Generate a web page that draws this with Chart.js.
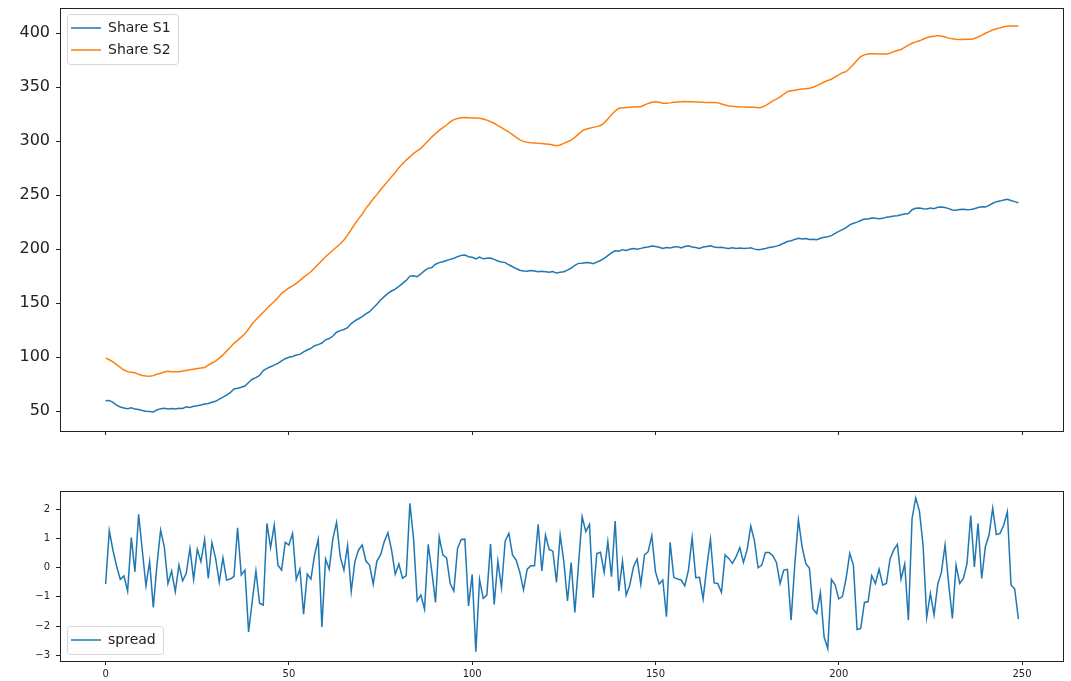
<!DOCTYPE html>
<html>
<head>
<meta charset="utf-8">
<script src="https://cdn.jsdelivr.net/npm/chart.js@4/dist/chart.umd.min.js"></script>
<style>
  html, body { margin: 0; padding: 0; background: #fff; }
  body { width: 1071px; height: 681px; position: relative; overflow: hidden; }
  .panel { position: absolute; left: 0; width: 1071px; }
  #topPanel { top: 0; height: 460px; }
  #bottomPanel { top: 470px; height: 211px; }
</style>
</head>
<body>
<div class="panel" id="topPanel"><canvas id="chartShares"></canvas></div>
<div class="panel" id="bottomPanel"><canvas id="chartSpread"></canvas></div>
<script>
const shareS1 = [
  59.5, 59.8, 58.0, 55.5, 53.8, 52.8, 52.2, 53.0, 51.8, 51.5,
  50.5, 49.8, 49.5, 49.2, 51.0, 52.2, 52.6, 51.8, 52.4, 51.9,
  52.6, 52.3, 53.9, 53.2, 54.5, 55.0, 55.6, 56.5, 57.0, 58.2,
  59.0, 61.0, 62.8, 64.8, 67.0, 70.5, 71.2, 72.0, 73.2, 76.5,
  79.5, 81.0, 83.0, 87.5, 89.5, 91.0, 92.5, 94.2, 96.5, 98.5,
  99.8, 100.5, 101.9, 102.5, 104.8, 106.5, 108.0, 110.5, 111.5, 113.0,
  116.0, 117.2, 119.5, 123.0, 124.5, 125.5, 127.2, 131.0, 133.5, 135.5,
  137.5, 140.0, 142.0, 145.5, 149.0, 152.8, 156.0, 159.0, 161.2, 163.0,
  165.5, 168.3, 171.0, 175.0, 175.3, 174.5, 177.0, 180.0, 182.2, 183.0,
  186.0, 187.5, 188.3, 189.5, 190.5, 191.5, 193.0, 194.2, 194.5, 193.0,
  192.4, 191.0, 192.6, 191.0, 191.5, 191.8, 190.5, 189.0, 188.0, 187.5,
  185.5, 183.7, 182.0, 180.5, 179.7, 179.5, 180.2, 179.8, 179.0, 179.5,
  179.0, 178.5, 179.2, 177.8, 178.5, 179.0, 180.6, 182.5, 185.0, 186.8,
  187.0, 187.6, 187.4, 186.5, 188.0, 189.5, 191.5, 194.0, 196.5, 198.5,
  198.0, 199.5, 198.8, 199.8, 200.5, 200.0, 200.7, 201.5, 202.0, 202.9,
  202.5, 201.8, 200.7, 201.5, 201.0, 202.0, 202.3, 201.2, 202.5, 203.0,
  202.0, 201.5, 200.7, 202.0, 202.5, 203.0, 202.0, 201.5, 201.7, 201.0,
  200.7, 201.2, 200.5, 201.0, 200.5, 200.7, 201.2, 200.0, 199.5, 199.8,
  200.5, 201.5, 202.0, 202.8, 203.8, 205.5, 207.0, 207.8, 209.0, 210.0,
  209.5, 209.8, 209.0, 209.1, 208.8, 210.0, 211.0, 211.5, 212.5, 214.5,
  216.5, 218.0, 220.0, 222.5, 224.0, 225.0, 226.5, 227.9, 228.0, 228.8,
  228.5, 228.2, 228.5, 229.5, 230.0, 230.7, 231.0, 231.8, 232.5, 233.0,
  236.5, 237.8, 238.0, 237.5, 237.2, 238.0, 237.5, 238.7, 239.0, 238.5,
  237.5, 236.2, 236.0, 236.8, 237.0, 236.5, 236.8, 237.5, 238.5, 239.3,
  239.0, 240.5, 242.5, 244.0, 244.5, 245.5, 246.2, 245.0, 244.0, 243.0
];

const shareS2 = [
  99.0, 97.5, 95.5, 93.0, 90.5, 88.0, 86.5, 86.0, 85.5, 84.0,
  83.0, 82.5, 82.3, 82.8, 84.0, 85.0, 86.2, 86.8, 86.5, 86.3,
  86.5, 87.0, 87.6, 88.2, 88.8, 89.4, 89.8, 90.4, 92.5, 94.5,
  96.3, 99.0, 102.0, 105.5, 109.0, 112.7, 115.5, 118.5, 121.5, 126.0,
  131.0, 134.5, 138.0, 141.5, 145.0, 148.5, 151.5, 155.0, 159.0, 161.5,
  164.0, 166.0, 168.3, 171.0, 173.8, 176.5, 179.0, 182.5, 186.0, 189.5,
  193.0, 196.0, 199.0, 202.0, 205.0, 208.4, 213.0, 218.0, 223.5, 228.0,
  232.5, 237.8, 242.0, 246.5, 250.5, 255.0, 259.0, 263.0, 267.0, 271.0,
  275.5, 279.0, 282.5, 285.5, 288.8, 291.0, 293.4, 297.0, 300.5, 304.0,
  307.0, 310.0, 312.5, 315.0, 317.8, 320.0, 321.0, 321.8, 322.0, 321.8,
  321.5, 321.5, 321.3, 320.5, 319.5, 318.0, 316.6, 314.5, 312.5, 310.5,
  308.5, 306.0, 303.5, 301.2, 299.8, 299.0, 298.6, 298.3, 298.0, 297.8,
  297.5, 297.2, 296.5, 295.8, 296.5, 298.0, 299.5, 301.0, 303.5, 306.5,
  309.5, 311.0, 312.0, 312.8, 313.5, 314.5, 317.0, 320.5, 324.5, 328.0,
  330.5, 331.0, 331.2, 331.4, 331.6, 331.8, 332.0, 333.5, 335.0, 336.0,
  336.6, 336.0, 335.2, 335.1, 335.5, 336.0, 336.3, 336.6, 336.7, 336.6,
  336.5, 336.4, 336.3, 336.0, 335.9, 335.8, 335.8, 335.5, 334.5, 333.5,
  332.6, 332.3, 332.0, 331.8, 331.7, 331.6, 331.5, 331.4, 331.0, 331.5,
  333.0, 335.0, 337.3, 339.0, 341.0, 343.5, 346.0, 346.8, 347.3, 347.8,
  348.3, 348.7, 349.0, 350.0, 351.5, 353.0, 354.8, 356.2, 357.4, 359.5,
  361.5, 363.5, 364.4, 367.5, 371.0, 375.0, 378.3, 380.0, 380.8, 381.0,
  381.0, 380.8, 380.8, 380.8, 381.5, 383.0, 384.0, 385.0, 387.0, 389.0,
  390.7, 392.0, 393.0, 394.5, 395.9, 396.8, 397.3, 397.8, 397.5, 396.5,
  395.5, 394.8, 394.4, 394.3, 394.2, 394.4, 394.4, 395.2, 396.5, 398.0,
  400.0, 401.5, 403.0, 404.2, 405.0, 406.1, 406.6, 406.8, 406.8, 406.8
];

const spread = [
  -0.56, 1.27, 0.6, 0.05, -0.4, -0.28, -0.8, 1.04, -0.14, 1.83,
  0.6, -0.62, 0.21, -1.36, 0.1, 1.29, 0.72, -0.54, -0.11, -0.82,
  0.09, -0.45, -0.19, 0.66, -0.4, 0.63, 0.21, 0.97, -0.37, 0.86,
  0.32, -0.5, 0.34, -0.42, -0.39, -0.3, 1.37, -0.25, -0.08, -2.2,
  -1.15, -0.11, -1.22, -1.28, 1.52, 0.69, 1.47, 0.09, -0.08, 0.87,
  0.78, 1.18, -0.4, -0.05, -1.59, -0.22, -0.39, 0.44, 0.97, -2.03,
  0.3, -0.05, 1.0, 1.56, 0.38, -0.08, 0.76, -0.82, 0.21, 0.61,
  0.78, 0.23, 0.09, -0.56, 0.23, 0.44, 0.89, 1.2, 0.61, -0.22,
  0.13, -0.36, -0.27, 2.21, 1.0, -1.13, -0.94, -1.42, 0.8, -0.14,
  -1.19, 1.06, 0.44, 0.34, -0.54, -0.8, 0.66, 0.97, 0.98, -1.31,
  -0.23, -2.88, -0.4, -1.05, -0.94, 0.81, -1.26, 0.23, -0.69, 0.92,
  1.18, 0.44, 0.26, -0.16, -0.76, -0.05, 0.07, 0.07, 1.49, -0.11,
  1.12, 0.63, 0.57, -0.5, 1.12, 0.21, -1.14, 0.18, -1.53, 0.1,
  1.75, 1.24, 1.49, -1.03, 0.49, 0.53, -0.16, 0.89, -0.31, 1.6,
  -0.8, 0.23, -0.94, -0.59, 0.03, 0.3, -0.57, 0.44, 0.55, 1.1,
  -0.14, -0.56, -0.42, -1.68, 0.87, -0.33, -0.39, -0.42, -0.62, -0.08,
  1.03, -0.34, -0.33, -1.07, 0.03, 0.98, -0.52, -0.54, -0.85, 0.44,
  0.32, 0.15, 0.38, 0.69, 0.18, 0.61, 1.43, 0.92, 0.0, 0.09,
  0.52, 0.52, 0.41, 0.18, -0.54, -0.08, -0.06, -1.8, 0.1, 1.64,
  0.72, 0.15, -0.02, -1.42, -1.57, -0.85, -2.37, -2.77, -0.4, -0.59,
  -1.07, -0.99, -0.37, 0.49, 0.09, -2.12, -2.08, -1.19, -1.17, -0.27,
  -0.54, -0.05, -0.59, -0.54, 0.3, 0.61, 0.8, -0.39, 0.13, -1.8,
  1.69, 2.4, 1.95, 0.78, -1.7, -0.88, -1.62, -0.57, -0.16, 0.78,
  -0.57, -1.74, 0.09, -0.54, -0.37, 0.15, 1.79, 0.03, 1.52, -0.37,
  0.72, 1.12, 2.04, 1.14, 1.18, 1.46, 1.92, -0.59, -0.73, -1.76
];

const xTicks = [0, 50, 100, 150, 200, 250]
const shareTicks = [50, 100, 150, 200, 250, 300, 350, 400]
const spreadTicks = [-3, -2, -1, 0, 1, 2]

const BLUE = '#1f77b4'
const ORANGE = '#ff7f0e'
const FONT = "'DejaVu Sans', sans-serif"

function toPoints(arr) {
  return arr.map((v, i) => ({x: i, y: v}))
}

function fmt(v) {
  return v < 0 ? '\u2212' + Math.abs(v) : String(v)
}

// matplotlib style box around the axes, legend kept inside the axes
const framePlugin = {
  id: 'frame',
  beforeDraw(chart) {
    const lg = chart.legend
    const a = chart.chartArea
    if (!lg || !lg.legendHitBoxes || !lg.legendHitBoxes.length) return
    // vertical legends get top/bottom reset to canvas space, put them back in the axes
    lg.left = a.left + 3
    lg.top = a.top + 5
    lg.bottom = a.bottom - 6
    lg.fit()
    lg.adjustHitBoxes()

    const boxes = lg.legendHitBoxes
    let l = Infinity, t = Infinity, r = -Infinity, b = -Infinity
    boxes.forEach(h => {
      l = Math.min(l, h.left); t = Math.min(t, h.top)
      r = Math.max(r, h.left + h.width); b = Math.max(b, h.top + h.height)
    })
    const ctx = chart.ctx
    ctx.save()
    ctx.beginPath()
    ctx.roundRect(Math.round(l - 4) + 0.5, Math.round(t - 7) + 0.5, Math.round(r - l + 11), Math.round(b - t + 14), 3)
    ctx.fillStyle = 'rgba(255,255,255,0.8)'
    ctx.fill()
    ctx.strokeStyle = '#d6d6d6'
    ctx.lineWidth = 1
    ctx.stroke()
    ctx.restore()
  },
  afterDatasetsDraw(chart) {
    const a = chart.chartArea
    const ctx = chart.ctx
    ctx.save()
    ctx.strokeStyle = '#222'
    ctx.lineWidth = 1
    ctx.strokeRect(Math.round(a.left) + 0.5, Math.round(a.top) + 0.5,
      Math.round(a.right - a.left) - 1, Math.round(a.bottom - a.top))
    ctx.restore()
  }
}

function xScale(showLabels, height) {
  return {
    type: 'linear',
    min: -12.45,
    max: 261.45,
    afterBuildTicks: (s) => { s.ticks = xTicks.map(v => ({value: v})) },
    afterFit: (s) => { s.height = height; s.paddingLeft = 0; s.paddingRight = 0 },
    border: {display: false},
    grid: {drawOnChartArea: false, drawTicks: true, tickLength: 4, color: '#222'},
    ticks: {
      display: true,
      padding: 3,
      color: '#222',
      font: {family: FONT, size: 10},
      callback: (v) => showLabels ? fmt(v) : ''
    }
  }
}

function yScale(min, max, tickVals, fontSize) {
  return {
    min: min,
    max: max,
    afterBuildTicks: (s) => { s.ticks = tickVals.map(v => ({value: v})) },
    afterFit: (s) => { s.width = 60; s.paddingTop = 0; s.paddingBottom = 0 },
    border: {display: false},
    grid: {drawOnChartArea: false, drawTicks: true, tickLength: 4, color: '#222'},
    ticks: {
      padding: 6,
      color: '#222',
      font: {family: FONT, size: fontSize},
      callback: (v) => fmt(v)
    }
  }
}

function legendOpts(align) {
  return {
    display: true,
    position: 'chartArea',
    align: align,
    labels: {
      usePointStyle: true,
      pointStyle: 'line',
      pointStyleWidth: 30,
      boxHeight: 14,
      padding: 8,
      color: '#222',
      font: {family: FONT, size: 14}
    }
  }
}

function lineSet(label, values, color) {
  return {
    label: label,
    data: toPoints(values),
    borderColor: color,
    backgroundColor: color,
    borderWidth: 1.5,
    pointRadius: 0,
    tension: 0,
    pointStyle: 'line'
  }
}

new Chart(document.getElementById('chartShares'), {
  type: 'line',
  data: {
    datasets: [
      lineSet('Share S1', shareS1, BLUE),
      lineSet('Share S2', shareS2, ORANGE)
    ]
  },
  options: {
    responsive: true,
    maintainAspectRatio: false,
    animation: false,
    layout: {padding: {top: 8, right: 7, left: 0, bottom: 0}},
    plugins: {legend: legendOpts('start'), tooltip: {enabled: false}},
    scales: {
      x: xScale(false, 29),
      y: yScale(31.5, 423.4, shareTicks, 16)
    }
  },
  plugins: [framePlugin]
});

new Chart(document.getElementById('chartSpread'), {
  type: 'line',
  data: {
    datasets: [lineSet('spread', spread, BLUE)]
  },
  options: {
    responsive: true,
    maintainAspectRatio: false,
    animation: false,
    layout: {padding: {top: 21, right: 7, left: 0, bottom: 0}},
    plugins: {legend: legendOpts('end'), tooltip: {enabled: false}},
    scales: {
      x: xScale(true, 20),
      y: yScale(-3.2, 2.633, spreadTicks, 10)
    }
  },
  plugins: [framePlugin]
});
</script>
</body>
</html>
